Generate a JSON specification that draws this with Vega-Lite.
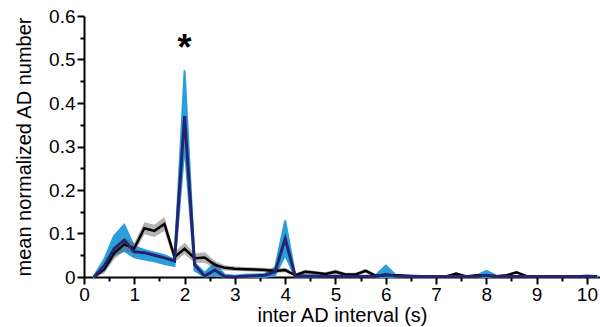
{
  "$schema": "https://vega.github.io/schema/vega-lite/v6.json",
  "width": 516,
  "height": 261,
  "autosize": {"type": "none"},
  "padding": {"left": 84, "top": 16, "right": 0, "bottom": 50},
  "config": {
    "view": {"stroke": null},
    "font": "Liberation Sans",
    "axis": {
      "grid": false,
      "domainColor": "#000",
      "domainWidth": 2,
      "tickColor": "#000",
      "tickWidth": 2,
      "labelColor": "#000",
      "titleColor": "#000",
      "labelFont": "Liberation Sans",
      "titleFont": "Liberation Sans",
      "labelFontSize": 19,
      "titleFontSize": 20,
      "titleFontWeight": "normal"
    }
  },
  "data": {
    "values": [
      {"t": 0.2, "k": 0, "klo": 0, "khi": 0.004, "n": 0, "blo": 0, "bhi": 0.003},
      {"t": 0.4, "k": 0.018, "klo": 0.008, "khi": 0.028, "n": 0.025, "blo": 0.015, "bhi": 0.04},
      {"t": 0.6, "k": 0.055, "klo": 0.041, "khi": 0.069, "n": 0.065, "blo": 0.05, "bhi": 0.095},
      {"t": 0.8, "k": 0.075, "klo": 0.06, "khi": 0.09, "n": 0.085, "blo": 0.06, "bhi": 0.12},
      {"t": 1.0, "k": 0.066, "klo": 0.054, "khi": 0.078, "n": 0.058, "blo": 0.045, "bhi": 0.07},
      {"t": 1.2, "k": 0.112, "klo": 0.098, "khi": 0.126, "n": 0.056, "blo": 0.04, "bhi": 0.062},
      {"t": 1.4, "k": 0.106, "klo": 0.092, "khi": 0.12, "n": 0.05, "blo": 0.036, "bhi": 0.056},
      {"t": 1.6, "k": 0.122, "klo": 0.106, "khi": 0.138, "n": 0.044, "blo": 0.03, "bhi": 0.05},
      {"t": 1.8, "k": 0.046, "klo": 0.034, "khi": 0.058, "n": 0.037, "blo": 0.025, "bhi": 0.04},
      {"t": 2.0, "k": 0.065, "klo": 0.053, "khi": 0.079, "n": 0.37, "blo": 0.3, "bhi": 0.475},
      {"t": 2.2, "k": 0.043, "klo": 0.032, "khi": 0.054, "n": 0.028, "blo": 0.015, "bhi": 0.032},
      {"t": 2.4, "k": 0.045, "klo": 0.033, "khi": 0.057, "n": 0.002, "blo": 0, "bhi": 0.01},
      {"t": 2.6, "k": 0.028, "klo": 0.019, "khi": 0.037, "n": 0.016, "blo": 0.005, "bhi": 0.032},
      {"t": 2.8, "k": 0.021, "klo": 0.015, "khi": 0.027, "n": 0.001, "blo": 0, "bhi": 0.005},
      {"t": 3.0, "k": 0.019, "klo": 0.014, "khi": 0.024, "n": 0, "blo": 0, "bhi": 0.003},
      {"t": 3.2, "k": 0.018, "klo": 0.013, "khi": 0.023, "n": 0.002, "blo": 0, "bhi": 0.005},
      {"t": 3.4, "k": 0.017, "klo": 0.012, "khi": 0.022, "n": 0.003, "blo": 0, "bhi": 0.006},
      {"t": 3.6, "k": 0.016, "klo": 0.011, "khi": 0.021, "n": 0.004, "blo": 0, "bhi": 0.007},
      {"t": 3.8, "k": 0.014, "klo": 0.009, "khi": 0.019, "n": 0.012, "blo": 0.004, "bhi": 0.022},
      {"t": 4.0, "k": 0.016, "klo": 0.011, "khi": 0.021, "n": 0.088, "blo": 0.05, "bhi": 0.13},
      {"t": 4.2, "k": 0.004, "klo": 0.001, "khi": 0.008, "n": 0.002, "blo": 0, "bhi": 0.005},
      {"t": 4.4, "k": 0.012, "klo": 0.007, "khi": 0.017, "n": 0.002, "blo": 0, "bhi": 0.004},
      {"t": 4.6, "k": 0.01, "klo": 0.006, "khi": 0.014, "n": 0.002, "blo": 0, "bhi": 0.004},
      {"t": 4.8, "k": 0.007, "klo": 0.004, "khi": 0.011, "n": 0.001, "blo": 0, "bhi": 0.003},
      {"t": 5.0, "k": 0.012, "klo": 0.007, "khi": 0.017, "n": 0.001, "blo": 0, "bhi": 0.004},
      {"t": 5.2, "k": 0.006, "klo": 0.003, "khi": 0.01, "n": 0.001, "blo": 0, "bhi": 0.003},
      {"t": 5.4, "k": 0.006, "klo": 0.003, "khi": 0.01, "n": 0.001, "blo": 0, "bhi": 0.003},
      {"t": 5.6, "k": 0.014, "klo": 0.009, "khi": 0.019, "n": 0.001, "blo": 0, "bhi": 0.003},
      {"t": 5.8, "k": 0.003, "klo": 0.001, "khi": 0.006, "n": 0.001, "blo": 0, "bhi": 0.004},
      {"t": 6.0, "k": 0.004, "klo": 0.002, "khi": 0.007, "n": 0.006, "blo": 0, "bhi": 0.026},
      {"t": 6.2, "k": 0.004, "klo": 0.002, "khi": 0.006, "n": 0.002, "blo": 0, "bhi": 0.004},
      {"t": 6.4, "k": 0.003, "klo": 0.001, "khi": 0.005, "n": 0.001, "blo": 0, "bhi": 0.003},
      {"t": 6.6, "k": 0.002, "klo": 0.001, "khi": 0.004, "n": 0.001, "blo": 0, "bhi": 0.003},
      {"t": 6.8, "k": 0.002, "klo": 0.001, "khi": 0.004, "n": 0.001, "blo": 0, "bhi": 0.002},
      {"t": 7.0, "k": 0.001, "klo": 0, "khi": 0.003, "n": 0.001, "blo": 0, "bhi": 0.002},
      {"t": 7.2, "k": 0.001, "klo": 0, "khi": 0.003, "n": 0.001, "blo": 0, "bhi": 0.002},
      {"t": 7.4, "k": 0.008, "klo": 0.005, "khi": 0.011, "n": 0.001, "blo": 0, "bhi": 0.002},
      {"t": 7.6, "k": 0.001, "klo": 0, "khi": 0.003, "n": 0.001, "blo": 0, "bhi": 0.002},
      {"t": 7.8, "k": 0.004, "klo": 0.002, "khi": 0.006, "n": 0.001, "blo": 0, "bhi": 0.003},
      {"t": 8.0, "k": 0.003, "klo": 0.001, "khi": 0.005, "n": 0.004, "blo": 0, "bhi": 0.014},
      {"t": 8.2, "k": 0.002, "klo": 0.001, "khi": 0.004, "n": 0.001, "blo": 0, "bhi": 0.003},
      {"t": 8.4, "k": 0.004, "klo": 0.002, "khi": 0.006, "n": 0.001, "blo": 0, "bhi": 0.002},
      {"t": 8.6, "k": 0.011, "klo": 0.007, "khi": 0.014, "n": 0.001, "blo": 0, "bhi": 0.002},
      {"t": 8.8, "k": 0.002, "klo": 0.001, "khi": 0.004, "n": 0.001, "blo": 0, "bhi": 0.002},
      {"t": 9.0, "k": 0.001, "klo": 0, "khi": 0.002, "n": 0.001, "blo": 0, "bhi": 0.002},
      {"t": 9.2, "k": 0.001, "klo": 0, "khi": 0.002, "n": 0.001, "blo": 0, "bhi": 0.002},
      {"t": 9.4, "k": 0.001, "klo": 0, "khi": 0.002, "n": 0.001, "blo": 0, "bhi": 0.002},
      {"t": 9.6, "k": 0.001, "klo": 0, "khi": 0.002, "n": 0.001, "blo": 0, "bhi": 0.002},
      {"t": 9.8, "k": 0.001, "klo": 0, "khi": 0.002, "n": 0.001, "blo": 0, "bhi": 0.002},
      {"t": 10.0, "k": 0.001, "klo": 0, "khi": 0.002, "n": 0.001, "blo": 0, "bhi": 0.004},
      {"t": 10.2, "k": 0.001, "klo": 0, "khi": 0.002, "n": 0.001, "blo": 0, "bhi": 0.002}
    ]
  },
  "resolve": {"axis": {"x": "independent", "y": "independent"}},
  "layer": [
    {
      "mark": {"type": "area", "color": "#2b9fdc", "stroke": "#2b9fdc", "strokeWidth": 2, "opacity": 1},
      "encoding": {
        "x": {"field": "t", "type": "quantitative", "scale": {"domain": [0, 10.26], "nice": false, "zero": false},
          "axis": {"orient": "bottom", "values": [0, 1, 2, 3, 4, 5, 6, 7, 8, 9, 10], "tickSize": 7, "labelPadding": 1, "title": "inter AD interval (s)", "titlePadding": 1, "labelFlush": false}},
        "y": {"field": "blo", "type": "quantitative", "scale": {"domain": [0, 0.6], "nice": false},
          "axis": {"orient": "left", "values": [0, 0.1, 0.2, 0.3, 0.4, 0.5, 0.6], "tickSize": 7, "labelPadding": 2, "labelExpr": "datum.value == 0 ? '0' : format(datum.value, '.1f')", "title": "mean normalized AD number", "titlePadding": 14}},
        "y2": {"field": "bhi"}
      }
    },
    {
      "mark": {"type": "area", "color": "#666666", "opacity": 0.5},
      "encoding": {
        "x": {"field": "t", "type": "quantitative",
          "axis": {"orient": "bottom", "values": [0.5, 1.5, 2.5, 3.5, 4.5, 5.5, 6.5, 7.5, 8.5, 9.5], "tickSize": 4, "labels": false, "domain": false, "title": null}},
        "y": {"field": "klo", "type": "quantitative",
          "axis": {"orient": "left", "values": [0.05, 0.15, 0.25, 0.35, 0.45, 0.55], "tickSize": 4, "labels": false, "domain": false, "title": null}},
        "y2": {"field": "khi"}
      }
    },
    {
      "mark": {"type": "line", "color": "#000000", "strokeWidth": 2.5},
      "encoding": {
        "x": {"field": "t", "type": "quantitative", "axis": null},
        "y": {"field": "k", "type": "quantitative", "axis": null}
      }
    },
    {
      "mark": {"type": "line", "color": "#27236e", "strokeWidth": 3},
      "encoding": {
        "x": {"field": "t", "type": "quantitative", "axis": null},
        "y": {"field": "n", "type": "quantitative", "axis": null}
      }
    },
    {
      "data": {"values": [{"t": 2.0, "v": 0.525, "label": "*"}]},
      "mark": {"type": "text", "fontSize": 36, "fontWeight": "bold", "color": "#000", "baseline": "middle", "align": "center"},
      "encoding": {
        "x": {"field": "t", "type": "quantitative", "axis": null},
        "y": {"field": "v", "type": "quantitative", "axis": null},
        "text": {"field": "label"}
      }
    }
  ]
}
